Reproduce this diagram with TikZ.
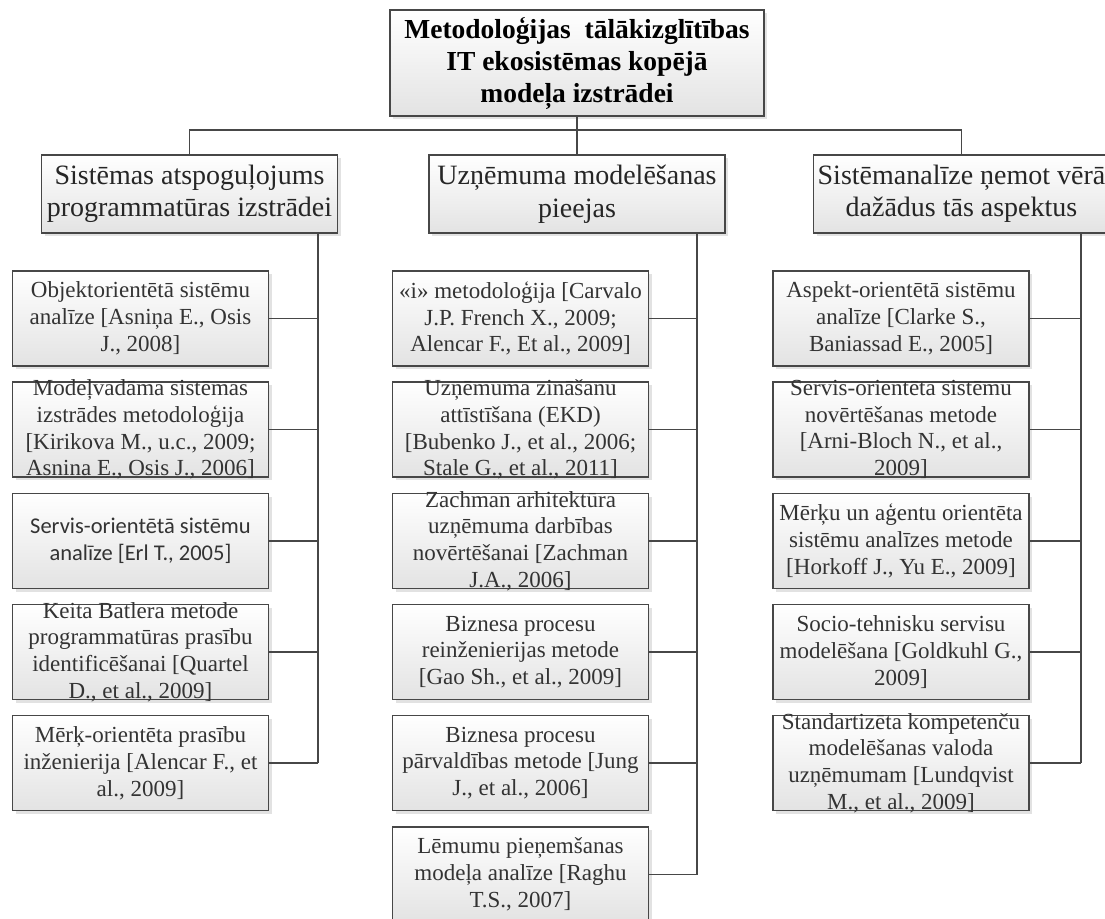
\documentclass[tikz,border=0pt]{standalone}
\usepackage{fontspec}
\setmainfont{Liberation Serif}
\newfontfamily\calibrilike{Carlito}
\usetikzlibrary{shadows}

\tikzset{
  frame/.style={draw=black!72, line width=1.2pt, top color=white, bottom color=black!11,
    drop shadow={shadow xshift=3pt, shadow yshift=-3pt, fill=black!16, opacity=.7},
    inner sep=0pt, anchor=center},
  rootbox/.style={frame, minimum width=374pt, minimum height=106pt},
  headbox/.style={frame, minimum width=296pt, minimum height=78pt},
  childbox/.style={frame, minimum width=256pt, minimum height=95pt},
  roottext/.style={inner sep=0pt, align=center, text=black, font=\fontsize{27.5}{32}\selectfont\bfseries},
  headtext/.style={inner sep=0pt, align=center, text=black!85, font=\fontsize{28}{32.5}\selectfont},
  childtext/.style={inner sep=0pt, align=center, text=black!80, font=\fontsize{23}{26.8}\selectfont},
  link/.style={draw=black!72, line width=1.2pt}
}

% box with its text set on top, so the box keeps its size
\newcommand\childitem[4]{%
  \node[childbox] (#1) at (#2,#3) {};
  \node[childtext] (#1t) at (#1.center) {#4};
}

\begin{document}
\begin{tikzpicture}[x=1pt, y=-1pt]
\useasboundingbox (0,0) rectangle (1105,918);
\clip (0,0) rectangle (1105,918);

% root
\node[rootbox] (root) at (577,63) {};
\node[roottext] (roott) at (root.center) {Metodoloģijas\ \ tālākizglītības\\IT ekosistēmas kopējā\\modeļa izstrādei};

% first level
\node[headbox] (hA) at (189.5,194) {};
\node[headtext] (hAt) at (hA.center) {Sistēmas atspoguļojums\\programmatūras izstrādei};
\node[headbox] (hB) at (577,194) {};
\node[headtext] (hBt) at (hB.center) {Uzņēmuma modelēšanas\\pieejas};
\node[headbox] (hC) at (961.5,194) {};
\node[headtext] (hCt) at (hC.center) {Sistēmanalīze ņemot vērā\\dažādus tās aspektus};

% bus between root and first level
\coordinate (bus) at (0,130);
\draw[link] (root.south) -- (hB.north);
\draw[link] (hA.north) -- (hA.north |- bus) -- (hC.north |- bus) -- (hC.north);

% trunk positions
\coordinate (tA) at (318,0);
\coordinate (tB) at (697,0);
\coordinate (tC) at (1081,0);

% column A
\childitem{a1}{140.5}{318.5}{Objektorientētā sistēmu\\analīze [Asniņa E., Osis\\J., 2008]}
\childitem{a2}{140.5}{429.5}{Modeļvadāma sistēmas\\izstrādes metodoloģija\\{}[Kirikova M., u.c., 2009;\\Asnina E., Osis J., 2006]}
\node[childbox] (a3) at (140.5,541) {};
\node[childtext, font=\fontsize{22.5}{26.8}\selectfont\calibrilike] (a3t) at (a3.center) {Servis-orientētā sistēmu\\analīze [Erl T., 2005]};
\childitem{a4}{140.5}{652}{Keita Batlera metode\\programmatūras prasību\\identificēšanai [Quartel\\D., et al., 2009]}
\childitem{a5}{140.5}{763}{Mērķ-orientēta prasību\\inženierija [Alencar F., et\\al., 2009]}

% column B
\childitem{b1}{520.5}{318.5}{«i» metodoloģija [Carvalo\\J.P. French X., 2009;\\Alencar F., Et al., 2009]}
\childitem{b2}{520.5}{429.5}{Uzņēmuma zināšanu\\attīstīšana (EKD)\\{}[Bubenko J., et al., 2006;\\Stale G., et al., 2011]}
\childitem{b3}{520.5}{541}{Zachman arhitektūra\\uzņēmuma darbības\\novērtēšanai [Zachman\\J.A., 2006]}
\childitem{b4}{520.5}{652}{Biznesa procesu\\reinženierijas metode\\{}[Gao Sh., et al., 2009]}
\childitem{b5}{520.5}{763}{Biznesa procesu\\pārvaldības metode [Jung\\J., et al., 2006]}
\childitem{b6}{520.5}{874.5}{Lēmumu pieņemšanas\\modeļa analīze [Raghu\\T.S., 2007]}

% column C
\childitem{c1}{901}{318.5}{Aspekt-orientētā sistēmu\\analīze [Clarke S.,\\Baniassad E., 2005]}
\childitem{c2}{901}{429.5}{Servis-orientēta sistēmu\\novērtēšanas metode\\{}[Arni-Bloch N., et al.,\\2009]}
\childitem{c3}{901}{541}{Mērķu un aģentu orientēta\\sistēmu analīzes metode\\{}[Horkoff J., Yu E., 2009]}
\childitem{c4}{901}{652}{Socio-tehnisku servisu\\modelēšana [Goldkuhl G.,\\2009]}
\childitem{c5}{901}{763}{Standartizēta kompetenču\\modelēšanas valoda\\uzņēmumam [Lundqvist\\M., et al., 2009]}

% trunks
\draw[link] (hA.south -| tA) -- (a5.east -| tA);
\draw[link] (hB.south -| tB) -- (b6.east -| tB);
\draw[link] (hC.south -| tC) -- (c5.east -| tC);

% branches
\foreach \n in {a1,a2,a3,a4,a5} \draw[link] (\n.east) -- (\n.east -| tA);
\foreach \n in {b1,b2,b3,b4,b5,b6} \draw[link] (\n.east) -- (\n.east -| tB);
\foreach \n in {c1,c2,c3,c4,c5} \draw[link] (\n.east) -- (\n.east -| tC);
\end{tikzpicture}
\end{document}
